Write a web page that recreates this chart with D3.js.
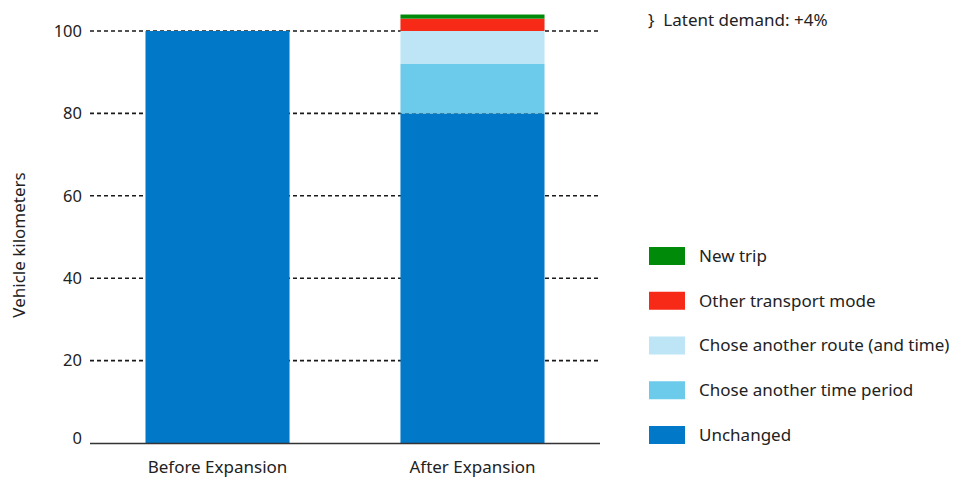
<!DOCTYPE html>
<html>
<head>
<meta charset="utf-8">
<script src="https://cdn.jsdelivr.net/npm/d3@7"></script>
<style>
  body { margin: 0; background: #fff; }
  svg text { font-family: "Noto Sans", "Open Sans", sans-serif; fill: #222; }
</style>
</head>
<body>
<svg id="chart" width="955" height="480"></svg>
<script>
// Categories along the x axis
const categories = ["Before Expansion", "After Expansion"];
// Stack segments, bottom to top
const seriesNames = ["Unchanged", "Chose another time period", "Chose another route (and time)", "Other transport mode", "New trip"];
const seriesColors = ["#0279C8", "#6CCAEA", "#BDE5F5", "#F72A18", "#008A0A"];
// Values per series, one per category
const unchanged = [100, 80];
const otherTime = [0, 12];
const otherRoute = [0, 8];
const otherMode = [0, 3];
const newTrip = [0, 1];
const yTicks = [0, 20, 40, 60, 80, 100];
const yLabel = "Vehicle kilometers";
const latentNote = "}  Latent demand: +4%";

const seriesValues = [unchanged, otherTime, otherRoute, otherMode, newTrip];
const rows = categories.map((c, i) => {
  const r = { category: c };
  seriesNames.forEach((s, j) => r[s] = seriesValues[j][i]);
  return r;
});
const stacked = d3.stack().keys(seriesNames)(rows);

const svg = d3.select("#chart");
const x = d3.scaleBand().domain(categories).range([90, 600]).paddingInner(0.435).paddingOuter(0.2176);
const y = d3.scaleLinear().domain([0, 100]).range([443, 31]);

// Dotted gridlines
svg.append("g").selectAll("line").data(yTicks.filter(t => t > 0)).join("line")
  .attr("x1", 90).attr("x2", 600)
  .attr("y1", d => y(d)).attr("y2", d => y(d))
  .attr("stroke", "#1a1a1a").attr("stroke-width", 1.6)
  .attr("stroke-dasharray", "4,3");

// Stacked bars
svg.append("g").selectAll("g").data(stacked).join("g")
  .attr("fill", (d, i) => seriesColors[i])
  .selectAll("rect").data(d => d).join("rect")
  .attr("x", d => x(d.data.category))
  .attr("width", x.bandwidth())
  .attr("y", d => y(d[1]))
  .attr("height", d => y(d[0]) - y(d[1]));

// Baseline
svg.append("line").attr("x1", 90).attr("x2", 600).attr("y1", y(0) + 0.5).attr("y2", y(0) + 0.5)
  .attr("stroke", "#333").attr("stroke-width", 1.5);

// Y axis tick labels
const yAxis = d3.axisLeft(y).tickValues(yTicks).tickSize(0).tickPadding(0);
const yg = svg.append("g").attr("transform", "translate(82,0)").call(yAxis);
yg.select(".domain").remove();
yg.selectAll("text").attr("font-size", 16.5).attr("dy", "0.32em")
  .style("font-family", "'Noto Sans', sans-serif").attr("fill", "#222");
yg.selectAll(".tick").filter(d => d === 0).select("text").attr("dy", "0em");

// X axis labels
const xAxis = d3.axisBottom(x).tickSize(0).tickPadding(0);
const xg = svg.append("g").attr("transform", "translate(0,458)").call(xAxis);
xg.select(".domain").remove();
xg.selectAll("text").attr("font-size", 17).attr("dy", "0.9em")
  .style("font-family", "'Noto Sans', sans-serif").attr("fill", "#222");

// Y axis title
svg.append("text").attr("transform", "translate(25,245) rotate(-90)")
  .attr("text-anchor", "middle").attr("font-size", 17).text(yLabel);

// Latent demand note
svg.append("text").attr("x", 648).attr("y", 26).attr("font-size", 17).attr("xml:space", "preserve").text(latentNote);

// Legend, top entry is the top of the stack
const legendItems = seriesNames.map((s, i) => ({ name: s, color: seriesColors[i] })).reverse();
const legendY = d3.scalePoint().domain(legendItems.map(d => d.name)).range([256, 435]);
const lg = svg.append("g").selectAll("g").data(legendItems).join("g")
  .attr("transform", d => `translate(649,${legendY(d.name)})`);
lg.append("rect").attr("x", 0).attr("y", -9).attr("width", 36).attr("height", 18).attr("fill", d => d.color);
lg.append("text").attr("x", 50).attr("y", 0).attr("dy", "0.35em").attr("font-size", 17).text(d => d.name);
</script>
</body>
</html>
